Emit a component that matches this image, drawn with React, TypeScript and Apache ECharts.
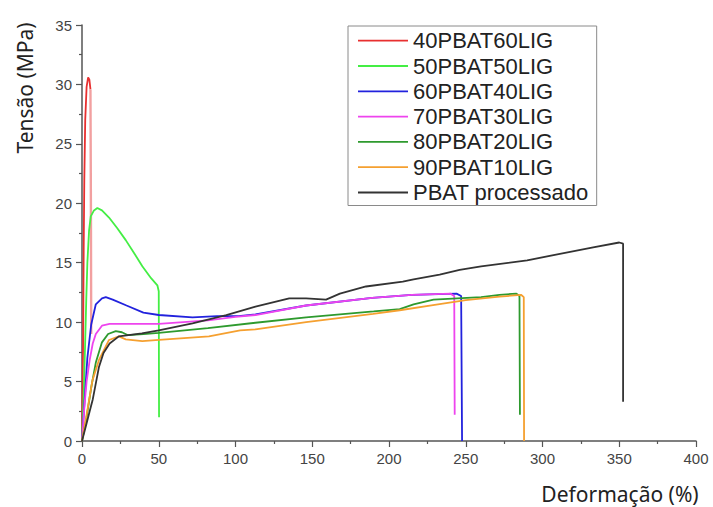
import React, { useEffect, useRef } from "react";
import * as echarts from "echarts";

// Tensile curves: strain (%) vs. stress (MPa) for PBAT / lignin blends
const seriesNames = [
  "40PBAT60LIG",
  "50PBAT50LIG",
  "60PBAT40LIG",
  "70PBAT30LIG",
  "80PBAT20LIG",
  "90PBAT10LIG",
  "PBAT processado",
];

const seriesColors = ["#e83030", "#44ee44", "#2222dd", "#ee44ee", "#2e9a2e", "#f5a030", "#333333"];

// the brittle 60 % lignin sample: loading branch, then the fracture drop
const pbat40lig60: number[][] = [
  [0, 0], [0.7, 8], [1.1, 16], [1.5, 22], [2.1, 27], [3, 29.8], [4, 30.6],
  [4.8, 30.4], [5.5, 29.6],
];
const pbat40lig60Break: number[][] = [[5.5, 29.6], [5.8, 20], [6, 9]];

const pbat50lig50: number[][] = [
  [0, 0], [1, 3.5], [2, 8], [2.8, 12], [3.5, 15], [4.6, 17.7], [5.7, 18.9],
  [7.8, 19.4], [10, 19.6], [13, 19.4], [17.6, 18.8], [23, 17.9], [28.5, 16.9],
  [34, 15.8], [39.3, 14.7], [45, 13.7], [49.1, 13.1], [50, 12.6], [50.2, 2],
];

const pbat60lig40: number[][] = [
  [0, 0], [1.5, 3], [3.5, 7], [6, 9.8], [9, 11.5], [13, 12.0], [15.5, 12.1],
  [20, 11.9], [29, 11.4], [40, 10.8], [50, 10.6], [72, 10.4], [88, 10.5],
  [102, 10.5], [113, 10.65], [146, 11.4], [189, 12.05], [215, 12.3], [244, 12.4],
  [247, 12.2], [247.6, 0],
];

const pbat70lig30: number[][] = [
  [0, 0], [1.5, 2.8], [3, 5], [5, 6.8], [7, 8.2], [9, 9.0], [13, 9.7], [18, 9.85],
  [30, 9.85], [50, 9.85], [82, 10.15], [100, 10.45], [113, 10.6], [146, 11.4],
  [189, 12.05], [215, 12.3], [240, 12.4], [242.5, 12.2], [242.8, 2.2],
];

const pbat80lig20: number[][] = [
  [0, 0], [3, 2], [6, 4.5], [9, 6.6], [13, 8.3], [17, 9.0], [22, 9.25], [26, 9.15],
  [30, 8.9], [40, 9.0], [50, 9.1], [82, 9.5], [113, 9.95], [146, 10.4], [190, 10.9],
  [207, 11.1], [216, 11.5], [229, 11.9], [260, 12.1], [272, 12.3], [283, 12.4],
  [285, 12.2], [285.3, 2.2],
];

const pbat90lig10: number[][] = [
  [0, 0], [3, 2.2], [6.8, 5.1], [11, 6.8], [17.6, 8.5], [24, 8.8], [28.5, 8.55],
  [39.3, 8.4], [50.2, 8.5], [82.7, 8.8], [103, 9.3], [113, 9.4], [146, 10.0],
  [189.6, 10.7], [207, 11.0], [228.7, 11.44], [250, 11.86], [272, 12.14],
  [286, 12.3], [287.8, 12.1], [288, 0],
];

const pbatProcessado: number[][] = [
  [0, 0], [3, 1.5], [5, 2.5], [7, 3.5], [11, 6.2], [14, 7.4], [18, 8.2], [24, 8.8],
  [39, 9.06], [50, 9.3], [72, 9.9], [94, 10.6], [113, 11.3], [135, 12], [146, 12],
  [159, 11.9], [168, 12.4], [185, 13], [209, 13.4], [216, 13.6], [233, 14],
  [246, 14.4], [260, 14.7], [290, 15.2], [333, 16.3], [350, 16.7], [352.5, 16.6],
  [352.5, 3.3],
];

const seriesData = [pbat40lig60, pbat50lig50, pbat60lig40, pbat70lig30, pbat80lig20, pbat90lig10, pbatProcessado];

const xTicks = { min: 0, max: 400, interval: 50 };
const yTicks = { min: 0, max: 35, interval: 5 };

// plain line glyph for the legend (thin bar, with empty points keeping a 14px tall box)
const legendLine = "path://M0,0L50,0L50,0.001Z M0,6.1L50,6.1L50,7.9L0,7.9Z M0,14L50,14L50,13.999Z";

export default function App() {
  const ref = useRef<HTMLDivElement>(null);

  useEffect(() => {
    if (!ref.current) return;
    const chart = echarts.init(ref.current, undefined, { renderer: "svg" });

    const axisColor = "#555555";
    const labelStyle = { color: "#444444", fontSize: 15, fontFamily: "Liberation Sans, Arial, sans-serif" };
    const titleFont = "21px 'Noto Sans', 'Open Sans', sans-serif";

    const lineSeries = seriesNames.map((name, i) => ({
      name,
      type: "line",
      data: seriesData[i],
      symbol: "none",
      smooth: false,
      color: seriesColors[i],
      lineStyle: { color: seriesColors[i], width: 1.8 },
      z: 2,
    }));

    chart.setOption({
      animation: false,
      backgroundColor: "#ffffff",
      grid: { left: 82, right: 17, top: 25, bottom: 66 },
      xAxis: {
        type: "value",
        min: xTicks.min,
        max: xTicks.max,
        interval: xTicks.interval,
        axisLine: { show: true, onZero: false, lineStyle: { color: axisColor, width: 1.5 } },
        axisTick: { show: true, length: 6, lineStyle: { color: axisColor, width: 1.2 } },
        minorTick: { show: true, splitNumber: 2, length: 3, lineStyle: { color: axisColor, width: 1.2 } },
        splitLine: { show: false },
        axisLabel: { ...labelStyle, margin: 10 },
      },
      yAxis: {
        type: "value",
        min: yTicks.min,
        max: yTicks.max,
        interval: yTicks.interval,
        axisLine: { show: true, lineStyle: { color: axisColor, width: 1.5 } },
        axisTick: { show: true, length: 6, lineStyle: { color: axisColor, width: 1.2 } },
        minorTick: { show: true, splitNumber: 2, length: 3, lineStyle: { color: axisColor, width: 1.2 } },
        splitLine: { show: false },
        axisLabel: { ...labelStyle, margin: 10 },
      },
      legend: {
        orient: "vertical",
        left: 348,
        top: 26,
        padding: [3.7, 8, 2, 10],
        itemWidth: 50,
        itemHeight: 14,
        itemGap: 3.3,
        icon: legendLine,
        borderColor: "#8a8a8a",
        borderWidth: 1,
        backgroundColor: "#ffffff",
        textStyle: {
          color: "#222222",
          fontSize: 22,
          lineHeight: 22,
          fontFamily: "Liberation Sans, Arial, sans-serif",
        },
        data: seriesNames,
      },
      graphic: [
        {
          type: "text",
          x: 25,
          y: 88,
          rotation: Math.PI / 2,
          style: {
            text: "Tensão (MPa)",
            fill: "#222222",
            font: titleFont,
            align: "center",
            verticalAlign: "middle",
          },
        },
        {
          type: "text",
          x: 620,
          y: 494,
          style: {
            text: "Deformação (%)",
            fill: "#222222",
            font: titleFont,
            align: "center",
            verticalAlign: "middle",
          },
        },
      ],
      series: [
        ...lineSeries,
        {
          name: seriesNames[0],
          type: "line",
          data: pbat40lig60Break,
          symbol: "none",
          color: "#f2a0a0",
          lineStyle: { color: "#f2a0a0", width: 2.4 },
          z: 1,
        },
      ],
    });

    return () => chart.dispose();
  }, []);

  return (
    <div
      ref={ref}
      style={{ position: "fixed", left: 0, top: 0, width: 713, height: 507, background: "#fff" }}
    />
  );
}
